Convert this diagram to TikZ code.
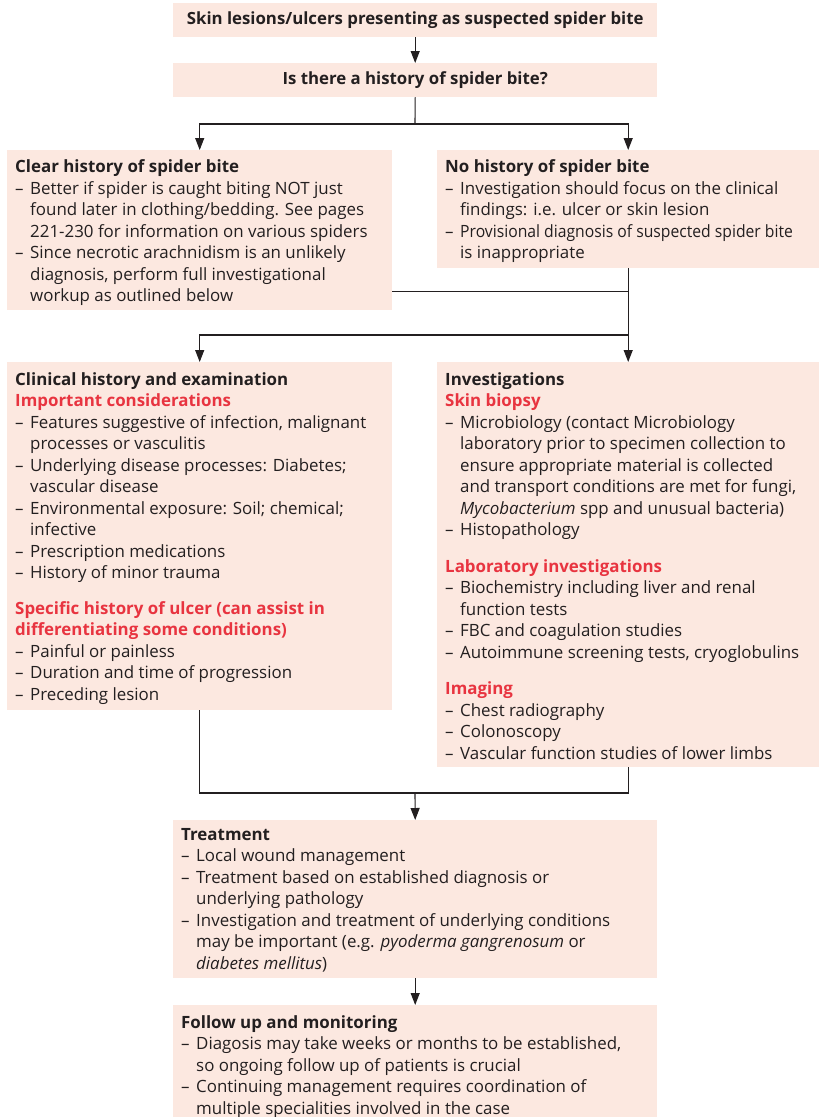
\documentclass[tikz,border=0pt]{standalone}
\usepackage{fontspec}
\usepackage{graphicx}
\setmainfont{Open Sans}
\usetikzlibrary{arrows.meta}
\definecolor{boxfill}{RGB}{252,232,224}
\definecolor{headred}{RGB}{232,52,64}
\definecolor{ink}{RGB}{35,31,32}
% list helpers: dash item, continuation indent, red sub-heading, tight line
\newcommand\li{\makebox[15pt][l]{–}}
\newcommand\ct{\hspace*{15pt}}
\newcommand\subhead[1]{{\bfseries\color{headred}#1}}
\newcommand\tight[1]{\scalebox{0.93}[1]{#1}}
\begin{document}
\begin{tikzpicture}[x=1pt,y=-1pt,
  box/.style={fill=boxfill, draw=none, anchor=north west, inner sep=0pt},
  body/.style={anchor=north west, inner sep=0pt, align=left, text=ink,
    font=\fontsize{16.9}{21.5}\selectfont},
  title/.style={inner sep=0pt, text=ink, font=\fontsize{16.8}{21.5}\selectfont\bfseries},
  link/.style={draw=ink, line width=1.1pt},
  arr/.style={link, -{Triangle[length=12pt,width=9pt]}}]
\useasboundingbox (0,0) rectangle (819,1117);

% boxes
\node[box, minimum width=484pt, minimum height=34pt]  (b1) at (173,3) {};
\node[box, minimum width=484pt, minimum height=34pt]  (b2) at (173,63) {};
\node[box, minimum width=385pt, minimum height=160pt] (b3) at (7,150) {};
\node[box, minimum width=382pt, minimum height=118pt] (b4) at (437,150) {};
\node[box, minimum width=385pt, minimum height=348pt] (b5) at (7,362) {};
\node[box, minimum width=382pt, minimum height=405pt] (b6) at (437,362) {};
\node[box, minimum width=484pt, minimum height=158pt] (b7) at (173,820) {};
\node[box, minimum width=484pt, minimum height=112pt] (b8) at (173,1005) {};

% texts
\node[title] (t1) at (b1.center) {Skin lesions/ulcers presenting as suspected spider bite};
\node[title] (t2) at (b2.center) {Is there a history of spider bite?};

\node[body] (t3) at (15,159.5) {\textbf{Clear history of spider bite}\\
\li Better if spider is caught biting NOT just\\
\ct found later in clothing/bedding. See pages\\
\ct 221-230 for information on various spiders\\
\li Since necrotic arachnidism is an unlikely\\
\ct diagnosis, perform full investigational\\
\ct workup as outlined below};

\node[body] (t4) at (445,159.5) {\textbf{No history of spider bite}\\
\li Investigation should focus on the clinical\\
\ct findings: i.e. ulcer or skin lesion\\
\li \tight{Provisional diagnosis of suspected spider bite}\\
\ct is inappropriate};

\node[body] (t5) at (15,372) {\textbf{Clinical history and examination}\\
\subhead{Important considerations}\\
\li Features suggestive of infection, malignant\\
\ct processes or vasculitis\\
\li Underlying disease processes: Diabetes;\\
\ct vascular disease\\
\li Environmental exposure: Soil; chemical;\\
\ct infective\\
\li Prescription medications\\
\li History of minor trauma\\[14pt]
\subhead{Specific history of ulcer (can assist in}\\
\subhead{differentiating some conditions)}\\
\li Painful or painless\\
\li Duration and time of progression\\
\li Preceding lesion};

\node[body] (t6) at (445,372) {\textbf{Investigations}\\
\subhead{Skin biopsy}\\
\li Microbiology (contact Microbiology\\
\ct laboratory prior to specimen collection to\\
\ct ensure appropriate material is collected\\
\ct and transport conditions are met for fungi,\\
\ct \textit{Mycobacterium} spp and unusual bacteria)\\
\li Histopathology\\[15pt]
\subhead{Laboratory investigations}\\
\li Biochemistry including liver and renal\\
\ct function tests\\
\li FBC and coagulation studies\\
\li Autoimmune screening tests, cryoglobulins\\[15pt]
\subhead{Imaging}\\
\li Chest radiography\\
\li Colonoscopy\\
\li Vascular function studies of lower limbs};

\node[body] (t7) at (181,828) {\textbf{Treatment}\\
\li Local wound management\\
\li Treatment based on established diagnosis or\\
\ct underlying pathology\\
\li Investigation and treatment of underlying conditions\\
\ct may be important (e.g. \textit{pyoderma gangrenosum} or\\
\ct \textit{diabetes mellitus})};

\node[body] (t8) at (181,1015) {\textbf{Follow up and monitoring}\\
\li Diagosis may take weeks or months to be established,\\
\ct so ongoing follow up of patients is crucial\\
\li Continuing management requires coordination of\\
\ct multiple specialities involved in the case};

% junction points (yshift is in page units: positive moves up)
\coordinate (j1) at (415,124);
\coordinate (j2) at ([yshift=19pt]b4.south |- b3.south);
\coordinate (j3) at ([yshift=27pt]b4.south |- b5.north);
\coordinate (j4) at (415,793);

% connectors
\draw[arr] (b1.south) -- (b2.north);
\draw[link] (b2.south) -- (j1);
\draw[arr] (j1) -| (b3.north);
\draw[arr] (j1) -| (b4.north);
\draw[link] (b3.east |- j2) -- (j2);
\draw[link] (b4.south) -- (j3);
\draw[arr] (j3) -- (b6.north);
\draw[arr] (j3) -| (b5.north);
\draw[link] (b5.south) |- (j4);
\draw[link] (b6.south) |- (j4);
\draw[arr] (j4) -- (b7.north);
\draw[arr] (b7.south) -- (b8.north);
\end{tikzpicture}
\end{document}
